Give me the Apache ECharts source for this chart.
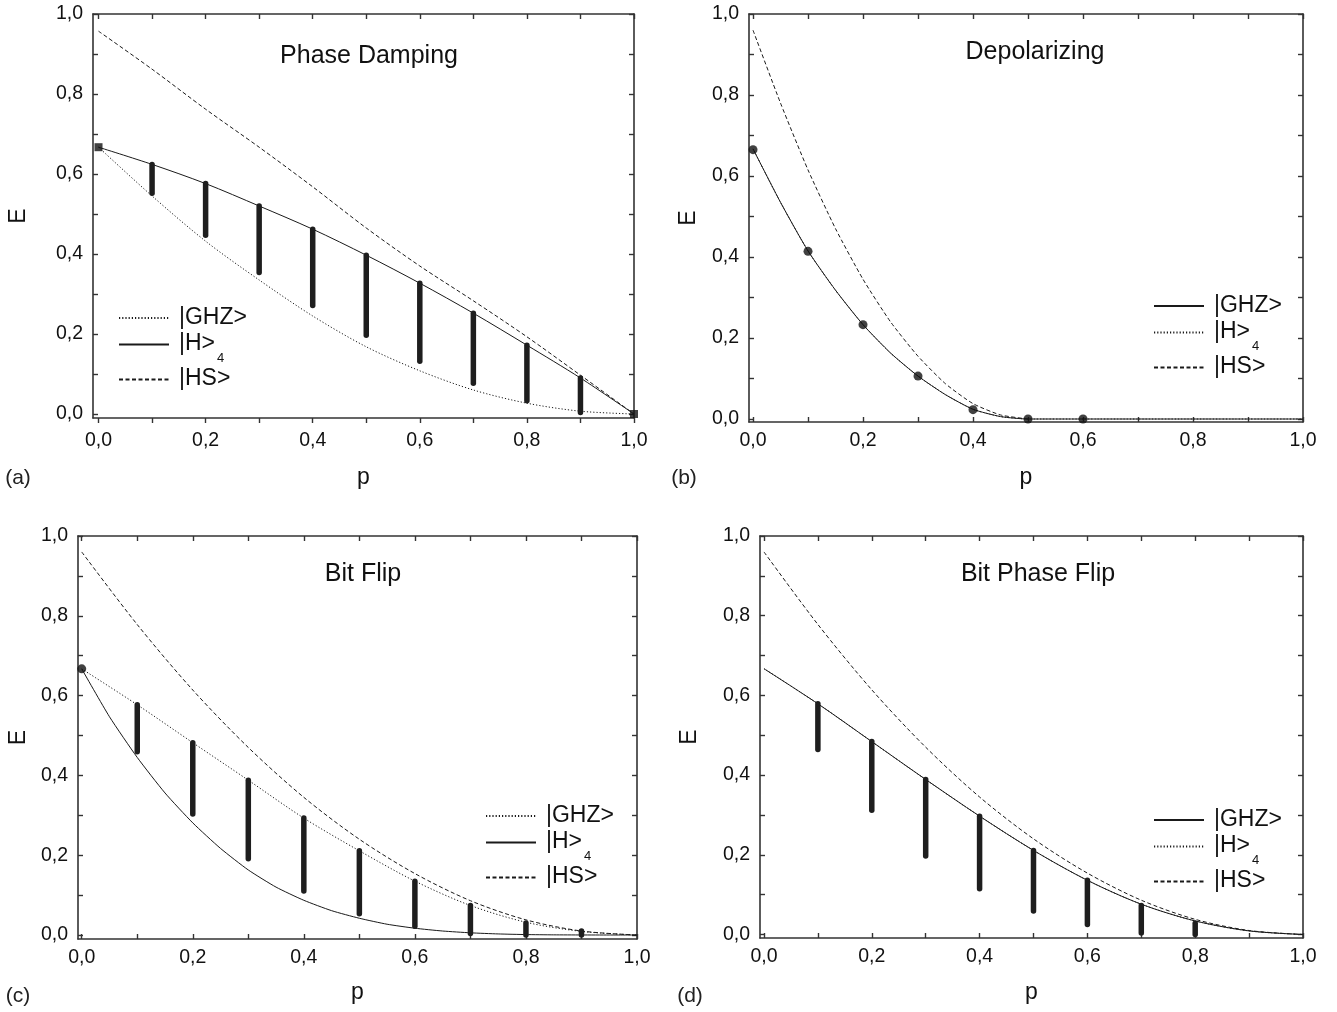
<!DOCTYPE html>
<html><head><meta charset="utf-8">
<script src="https://cdn.jsdelivr.net/npm/echarts@6/dist/echarts.min.js"></script>
<style>html,body{margin:0;padding:0;background:#fff}#c{width:1337px;height:1012px}</style>
</head><body><div id="c"></div>
<script>
// ---------- tick labels ----------
const tickValues = [0, 0.2, 0.4, 0.6, 0.8, 1.0];
const tickLabels = ['0,0', '0,2', '0,4', '0,6', '0,8', '1,0'];
const minorTickValues = [0, 0.1, 0.2, 0.3, 0.4, 0.5, 0.6, 0.7, 0.8, 0.9, 1.0];

// ---------- (a) Phase Damping ----------
const pA   = [0, 0.1, 0.2, 0.3, 0.4, 0.5, 0.6, 0.7, 0.8, 0.9, 1.0];
const ghzA = [0.667, 0.545, 0.432, 0.335, 0.245, 0.168, 0.108, 0.060, 0.027, 0.007, 0.0];
const h4A  = [0.667, 0.624, 0.576, 0.520, 0.462, 0.397, 0.327, 0.252, 0.172, 0.090, 0.0];
const hsA  = [0.957, 0.862, 0.762, 0.667, 0.568, 0.465, 0.370, 0.283, 0.193, 0.097, 0.0];
const barPA  = [0.1, 0.2, 0.3, 0.4, 0.5, 0.6, 0.7, 0.8, 0.9];
const barLoA = [0.552, 0.447, 0.354, 0.271, 0.197, 0.132, 0.077, 0.033, 0.004];
const barHiA = [0.624, 0.576, 0.520, 0.462, 0.397, 0.327, 0.252, 0.172, 0.090];
const markPA = [0, 1.0];
const markEA = [0.667, 0.0];

// ---------- (b) Depolarizing ----------
const pB   = [0, 0.05, 0.1, 0.15, 0.2, 0.25, 0.3, 0.35, 0.4, 0.45, 0.5, 0.6, 0.7, 0.8, 0.9, 1.0];
const ghzB = [0.667, 0.535, 0.415, 0.318, 0.233, 0.163, 0.106, 0.060, 0.024, 0.006, 0, 0, 0, 0, 0, 0];
const h4B  = [0.667, 0.535, 0.415, 0.318, 0.233, 0.163, 0.106, 0.060, 0.024, 0.006, 0, 0, 0, 0, 0, 0];
const pHsB = [0, 0.05, 0.1, 0.15, 0.2, 0.25, 0.3, 0.35, 0.4, 0.45, 0.5];
const hsB  = [0.960, 0.780, 0.615, 0.470, 0.345, 0.240, 0.155, 0.087, 0.038, 0.010, 0.0];
const dotPB = [0, 0.1, 0.2, 0.3, 0.4, 0.5, 0.6];
const dotEB = [0.665, 0.414, 0.233, 0.106, 0.023, 0.0, 0.0];

// ---------- (c) Bit Flip ----------
const pC   = [0, 0.1, 0.2, 0.3, 0.4, 0.5, 0.6, 0.7, 0.8, 0.9, 1.0];
const ghzC = [0.667, 0.577, 0.482, 0.388, 0.293, 0.211, 0.135, 0.074, 0.032, 0.009, 0.0];
const pH4C = [0, 0.05, 0.1, 0.15, 0.2, 0.25, 0.3, 0.35, 0.4, 0.45, 0.5, 0.55, 0.6, 0.65, 0.7, 0.75, 0.8, 0.85, 0.9, 0.95, 1.0];
const h4C  = [0.667, 0.547, 0.445, 0.356, 0.281, 0.217, 0.163, 0.120, 0.087, 0.061, 0.042, 0.027, 0.017, 0.010, 0.0055, 0.0027, 0.0011, 0.0004, 0.0001, 0.0, 0.0];
const hsC  = [0.960, 0.778, 0.614, 0.470, 0.345, 0.240, 0.154, 0.086, 0.038, 0.010, 0.0];
const barPC  = [0.1, 0.2, 0.3, 0.4, 0.5, 0.6, 0.7, 0.8, 0.9];
const barLoC = [0.459, 0.303, 0.191, 0.110, 0.053, 0.022, 0.004, 0.0, 0.0];
const barHiC = [0.577, 0.482, 0.388, 0.293, 0.211, 0.135, 0.074, 0.030, 0.010];
const markPC = [0];
const markEC = [0.667];

// ---------- (d) Bit Phase Flip ----------
const pD   = [0, 0.1, 0.2, 0.3, 0.4, 0.5, 0.6, 0.7, 0.8, 0.9, 1.0];
const ghzD = [0.667, 0.579, 0.484, 0.389, 0.297, 0.211, 0.136, 0.076, 0.034, 0.009, 0.0];
const h4D  = [0.667, 0.579, 0.484, 0.389, 0.297, 0.211, 0.136, 0.076, 0.034, 0.009, 0.0];
const hsD  = [0.960, 0.778, 0.614, 0.470, 0.345, 0.240, 0.154, 0.086, 0.038, 0.010, 0.0];
const barPD  = [0.1, 0.2, 0.3, 0.4, 0.5, 0.6, 0.7, 0.8];
const barLoD = [0.464, 0.312, 0.197, 0.115, 0.059, 0.025, 0.004, 0.0];
const barHiD = [0.579, 0.484, 0.389, 0.297, 0.211, 0.136, 0.073, 0.028];

// ---------- text ----------
const panelTitles  = ['Phase Damping', 'Depolarizing', 'Bit Flip', 'Bit Phase Flip'];
const panelLetters = ['(a)', '(b)', '(c)', '(d)'];
const legendLabels = { GHZ: '|GHZ>', H4: '|H>', H4sub: '4', HS: '|HS>' };

// ---------- styling / layout ----------
const FONT = "'Liberation Sans', Arial, Helvetica, sans-serif";
const INK = '#1a1a1a';
const AXC = '#333333';
const DOT = [1.2, 2];
const DASH = [4, 2.5];

const layout = [
  { left: 93,  top: 14,  width: 541, height: 404, xmin: -0.0103, ymin: -0.010, xOut: true,  xMargin: 13, xGap: 48, yGap: 63,
    legend: { left: 118, top: 306 }, title: [369, 56], letter: [18, 478] },
  { left: 749, top: 14,  width: 554, height: 408, xmin: -0.0073, ymin: -0.0074, xOut: false, xMargin: 9, xGap: 44, yGap: 49,
    legend: { left: 1153, top: 294 }, title: [1035, 52], letter: [684, 478] },
  { left: 78,  top: 536, width: 559, height: 403, xmin: -0.0067, ymin: -0.010, xOut: false, xMargin: 9, xGap: 42, yGap: 48,
    legend: { left: 485, top: 804 }, title: [363, 574], letter: [18, 996] },
  { left: 760, top: 536, width: 543, height: 402, xmin: -0.0074, ymin: -0.0088, xOut: false, xMargin: 9, xGap: 43, yGap: 59,
    legend: { left: 1153, top: 808 }, title: [1038, 574], letter: [690, 996] }
];

function fmtTick(v) {
  const k = tickValues.findIndex(t => Math.abs(t - v) < 1e-9);
  return k >= 0 ? tickLabels[k] : '';
}
const zip = (xs, ys) => xs.map((x, i) => [x, ys[i]]);

const grids = [], xAxes = [], yAxes = [], legends = [], series = [], graphics = [];

layout.forEach((L, i) => {
  grids.push({ left: L.left, top: L.top, width: L.width, height: L.height, containLabel: false, show: false });
  const axLine = { show: true, onZero: false, lineStyle: { color: AXC, width: 1.6 } };
  const tick = inside => ({ show: true, inside: inside, length: 5, customValues: minorTickValues,
                            lineStyle: { color: AXC, width: 1.4 } });
  xAxes.push({ type: 'value', gridIndex: i, position: 'bottom', min: L.xmin, max: 1,
    axisLine: axLine, axisTick: tick(!L.xOut), splitLine: { show: false },
    axisLabel: { customValues: tickValues, formatter: fmtTick, fontSize: 19.5, color: '#111', fontFamily: FONT, margin: L.xMargin },
    name: 'p', nameLocation: 'middle', nameGap: L.xGap,
    nameTextStyle: { fontSize: 23, color: '#111', fontFamily: FONT } });
  xAxes.push({ type: 'value', gridIndex: i, position: 'top', min: L.xmin, max: 1,
    axisLine: axLine, axisTick: tick(true), splitLine: { show: false }, axisLabel: { show: false } });
  yAxes.push({ type: 'value', gridIndex: i, position: 'left', min: L.ymin, max: 1,
    axisLine: axLine, axisTick: tick(true), splitLine: { show: false },
    axisLabel: { customValues: tickValues, formatter: fmtTick, fontSize: 19.5, color: '#111', fontFamily: FONT, margin: 10 },
    name: 'E', nameLocation: 'middle', nameGap: L.yGap,
    nameTextStyle: { fontSize: 23, color: '#111', fontFamily: FONT } });
  yAxes.push({ type: 'value', gridIndex: i, position: 'right', min: L.ymin, max: 1,
    axisLine: axLine, axisTick: tick(true), splitLine: { show: false }, axisLabel: { show: false } });

  graphics.push({ type: 'text', x: L.title[0], y: L.title[1], silent: true,
    style: { text: panelTitles[i], font: '25px ' + FONT, fill: '#111', align: 'center', verticalAlign: 'middle',
             textAlign: 'center', textVerticalAlign: 'middle' } });
  graphics.push({ type: 'text', x: L.letter[0], y: L.letter[1], silent: true,
    style: { text: panelLetters[i], font: '21px ' + FONT, fill: '#222', align: 'center', verticalAlign: 'middle',
             textAlign: 'center', textVerticalAlign: 'middle' } });
});

function lineSeries(name, panel, data, dash, smooth) {
  return { type: 'line', name: name, xAxisIndex: panel * 2, yAxisIndex: panel * 2, data: data,
    symbol: 'none', smooth: smooth === undefined ? 0.3 : smooth, clip: true, z: 2,
    lineStyle: { color: INK, width: 1, type: dash || 'solid' }, itemStyle: { color: INK },
    emphasis: { disabled: true } };
}
function barSeries(panel, ps, lo, hi) {
  return { type: 'custom', xAxisIndex: panel * 2, yAxisIndex: panel * 2, z: 4, silent: true,
    data: ps.map((p, i) => [p, lo[i], hi[i]]), encode: { x: 0, y: [1, 2] },
    renderItem: (params, api) => {
      const x = api.value(0);
      const a = api.coord([x, api.value(1)]);
      const b = api.coord([x, api.value(2)]);
      return { type: 'line', shape: { x1: a[0], y1: a[1], x2: b[0], y2: b[1] },
               style: { stroke: '#1e1e1e', lineWidth: 5.5, lineCap: 'round' } };
    } };
}
function markSeries(panel, ps, es, sym, size) {
  return { type: 'scatter', xAxisIndex: panel * 2, yAxisIndex: panel * 2, z: 5, silent: true,
    data: zip(ps, es), symbol: sym, symbolSize: size, itemStyle: { color: '#111' }, clip: false };
}

// (a)
series.push(lineSeries('a-GHZ', 0, zip(pA, ghzA), DOT));
series.push(lineSeries('a-H4', 0, zip(pA, h4A), 'solid'));
series.push(lineSeries('a-HS', 0, zip(pA, hsA), DASH));
series.push(barSeries(0, barPA, barLoA, barHiA));
series.push(markSeries(0, markPA, markEA, 'rect', 8));
// (b)
series.push(lineSeries('b-GHZ', 1, zip(pB, ghzB), 'solid', 0.2));
series.push(lineSeries('b-H4', 1, zip(pB, h4B), DOT, 0.2));
series.push(lineSeries('b-HS', 1, zip(pHsB, hsB), DASH, 0.2));
series.push(markSeries(1, dotPB, dotEB, 'circle', 9));
// (c)
series.push(lineSeries('c-GHZ', 2, zip(pC, ghzC), DOT));
series.push(lineSeries('c-H4', 2, zip(pH4C, h4C), 'solid', 0.2));
series.push(lineSeries('c-HS', 2, zip(pC, hsC), DASH));
series.push(barSeries(2, barPC, barLoC, barHiC));
series.push(markSeries(2, markPC, markEC, 'circle', 9));
// (d)
series.push(lineSeries('d-H4', 3, zip(pD, h4D), DOT));
series.push(lineSeries('d-GHZ', 3, zip(pD, ghzD), 'solid'));
series.push(lineSeries('d-HS', 3, zip(pD, hsD), DASH));
series.push(barSeries(3, barPD, barLoD, barHiD));

function legendText(name) {
  const key = name.split('-')[1];
  if (key === 'H4') return '{sp| }{m|' + legendLabels.H4 + '}{s|' + legendLabels.H4sub + '}';
  return '{sp| }{m|' + legendLabels[key] + '}';
}
['a', 'b', 'c', 'd'].forEach((k, i) => {
  legends.push({ orient: 'vertical', left: layout[i].legend.left, top: layout[i].legend.top, padding: 0,
    itemWidth: 50, itemHeight: 14, itemGap: 3, selectedMode: false,
    data: [k + '-GHZ', k + '-H4', k + '-HS'],
    formatter: legendText,
    itemStyle: { opacity: 0 },
    textStyle: { fontSize: 23, color: '#111', fontFamily: FONT,
      rich: { sp: { width: 5, fontSize: 23 },
              m: { fontSize: 23, lineHeight: 24, verticalAlign: 'top', fontFamily: FONT, color: '#111' },
              s: { fontSize: 13, lineHeight: 13, verticalAlign: 'top', padding: [19, 0, 0, 2], fontFamily: FONT, color: '#111' } } } });
});

const chart = echarts.init(document.getElementById('c'), null, { renderer: 'canvas' });
chart.setOption({
  animation: false,
  backgroundColor: '#ffffff',
  grid: grids, xAxis: xAxes, yAxis: yAxes, legend: legends, series: series, graphic: graphics
});
</script>
</body></html>
